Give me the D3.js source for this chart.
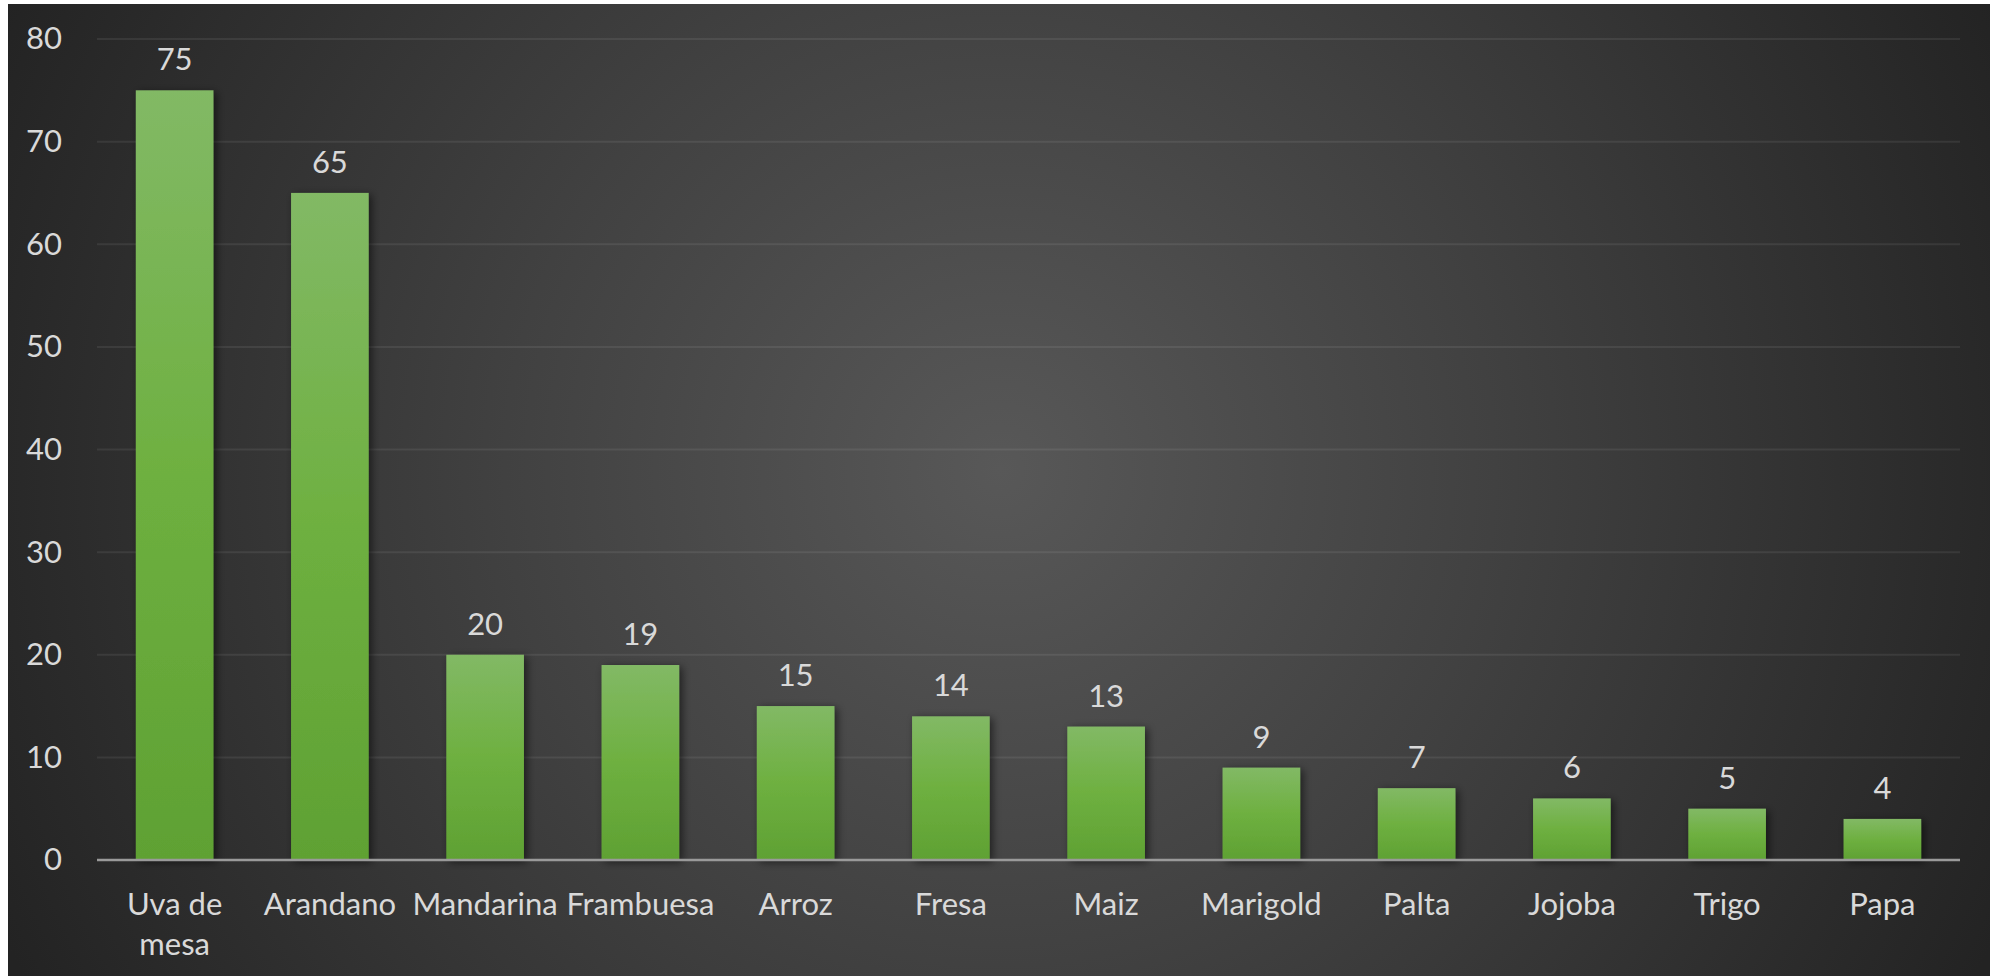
<!DOCTYPE html>
<meta charset='utf-8'>
<head>
    <title>Cultivos</title>
    <script src='https://cdn.jsdelivr.net/npm/d3@7/dist/d3.min.js'></script>
</head>

<style>
    body { margin: 0; background: #fff; }
    text {
        font-family: 'Gill Sans', 'Gill Sans MT', Lato, sans-serif;
        fill: #d9d9d9;
        font-size: 31px;
    }
    .grid line {
        stroke: #fff;
        stroke-opacity: 0.075;
        stroke-width: 2px;
    }
    .baseline {
        stroke: #9a9a9a;
        stroke-width: 2.5px;
    }
</style>

<svg></svg>

<script>
    var vWidth = 2002;
    var vHeight = 976;

    var vCategories = ['Uva de mesa', 'Arandano', 'Mandarina', 'Frambuesa', 'Arroz', 'Fresa',
        'Maiz', 'Marigold', 'Palta', 'Jojoba', 'Trigo', 'Papa'];
    var vValues = [75, 65, 20, 19, 15, 14, 13, 9, 7, 6, 5, 4];
    var vTicks = [0, 10, 20, 30, 40, 50, 60, 70, 80];

    var vPlot = {left: 97, right: 1960, top: 39, bottom: 860};

    var svg = d3.select('svg').attr('width', vWidth).attr('height', vHeight);
    var defs = svg.append('defs');

    // background: dark radial glow
    var bg = defs.append('radialGradient').attr('id', 'bg')
        .attr('gradientUnits', 'userSpaceOnUse')
        .attr('cx', 1000).attr('cy', 470).attr('r', 1100);
    bg.append('stop').attr('offset', 0).attr('stop-color', '#585858');
    bg.append('stop').attr('offset', 0.45).attr('stop-color', '#414141');
    bg.append('stop').attr('offset', 1).attr('stop-color', '#232323');

    var barGrad = defs.append('linearGradient').attr('id', 'bar')
        .attr('x1', 0).attr('y1', 0).attr('x2', 0).attr('y2', 1);
    barGrad.append('stop').attr('offset', 0).attr('stop-color', '#82b965');
    barGrad.append('stop').attr('offset', 0.5).attr('stop-color', '#6eb040');
    barGrad.append('stop').attr('offset', 1).attr('stop-color', '#5fa133');

    defs.append('filter').attr('id', 'shadow')
        .attr('x', '-20%').attr('y', '-20%').attr('width', '150%').attr('height', '140%')
        .append('feDropShadow')
        .attr('dx', 3).attr('dy', 2).attr('stdDeviation', 4)
        .attr('flood-color', '#000').attr('flood-opacity', 0.55);

    svg.append('rect')
        .attr('x', 8).attr('y', 4).attr('width', 1982).attr('height', 972)
        .attr('fill', 'url(#bg)');

    // scales
    var x = d3.scaleBand().domain(vCategories)
        .range([vPlot.left, vPlot.right]).paddingInner(0.5).paddingOuter(0.25);
    var y = d3.scaleLinear().domain([0, 80]).range([vPlot.bottom, vPlot.top]);

    // gridlines
    svg.append('g').attr('class', 'grid')
        .selectAll('line').data(vTicks.slice(1)).enter().append('line')
        .attr('x1', vPlot.left).attr('x2', vPlot.right)
        .attr('y1', function (d) { return y(d); })
        .attr('y2', function (d) { return y(d); });

    // y tick labels
    var yAxis = svg.append('g')
        .attr('transform', 'translate(' + vPlot.left + ',0)')
        .call(d3.axisLeft(y).tickValues(vTicks).tickSize(0).tickPadding(35));
    yAxis.select('.domain').remove();
    yAxis.selectAll('text').attr('fill', '#d9d9d9').style('font-size', '31px')
        .style('font-family', null);

    // bars
    svg.append('g').selectAll('rect').data(vValues).enter().append('rect')
        .attr('x', function (d, i) { return x(vCategories[i]); })
        .attr('y', function (d) { return y(d); })
        .attr('width', x.bandwidth())
        .attr('height', function (d) { return y(0) - y(d); })
        .attr('fill', 'url(#bar)')
        .attr('filter', 'url(#shadow)');

    // value labels
    svg.append('g').selectAll('text').data(vValues).enter().append('text')
        .attr('x', function (d, i) { return x(vCategories[i]) + x.bandwidth() / 2; })
        .attr('y', function (d) { return y(d) - 20; })
        .attr('text-anchor', 'middle')
        .text(function (d) { return d; });

    // x axis line
    svg.append('line').attr('class', 'baseline')
        .attr('x1', vPlot.left).attr('x2', vPlot.right)
        .attr('y1', y(0)).attr('y2', y(0));

    // category labels, wrapped when wider than a step
    var xAxis = svg.append('g')
        .attr('transform', 'translate(0,' + y(0) + ')')
        .call(d3.axisBottom(x).tickSize(0).tickPadding(0));
    xAxis.select('.domain').remove();
    xAxis.selectAll('text')
        .attr('fill', '#d9d9d9').attr('dy', null).attr('y', 55)
        .style('font-size', '31px').style('font-family', null)
        .each(function (d) {
            var t = d3.select(this);
            if (this.getComputedTextLength() <= x.step()) return;
            var words = d.split(' ');
            t.text(null);
            t.append('tspan').attr('x', 0).attr('dy', 0).text(words.slice(0, 2).join(' '));
            t.append('tspan').attr('x', 0).attr('dy', 40).text(words.slice(2).join(' '));
        });
</script>
